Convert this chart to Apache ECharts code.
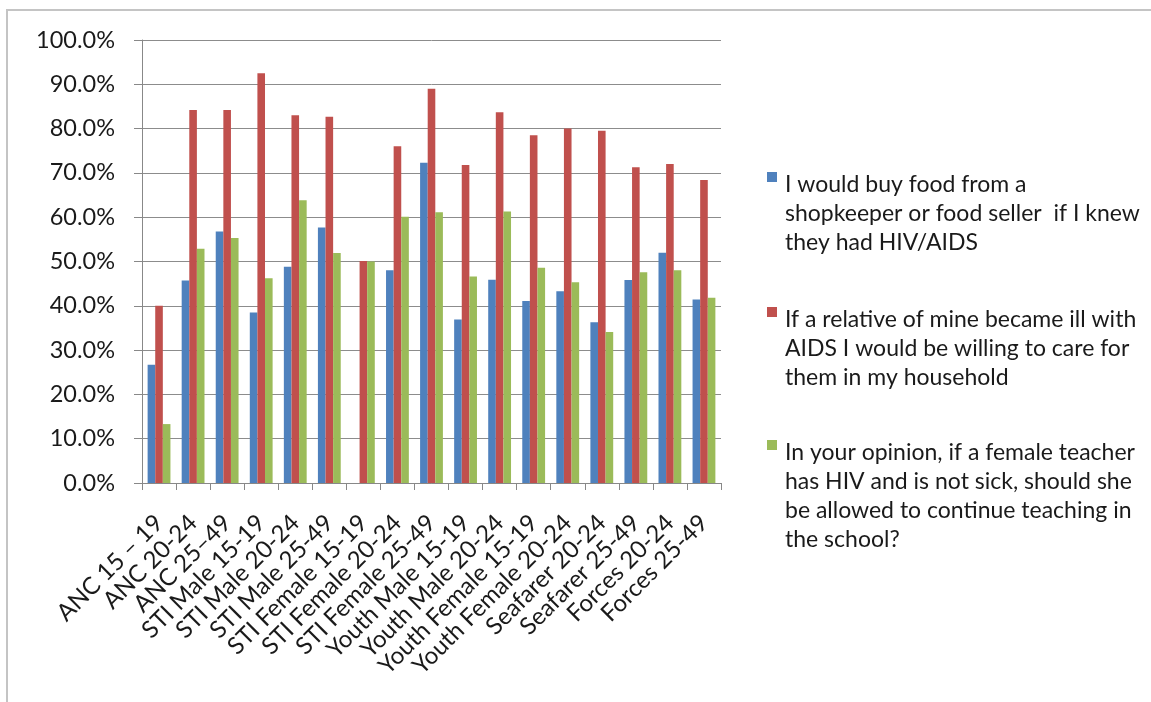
<!DOCTYPE html>
<html>
<head>
<meta charset="utf-8">
<script src="https://cdn.jsdelivr.net/npm/echarts@6/dist/echarts.min.js"></script>
<style>
html,body{margin:0;padding:0;background:#fff;}
#chart{width:1151px;height:702px;}
</style>
</head>
<body>
<div id="chart"></div>
<script>
const categories = ['ANC 15 – 19','ANC 20-24','ANC 25–49','STI Male 15-19','STI Male 20-24','STI Male 25-49','STI Female 15-19','STI Female 20-24','STI Female 25-49','Youth Male 15-19','Youth Male 20-24','Youth Female 15-19','Youth Female 20-24','Seafarer 20-24','Seafarer 25-49','Forces 20-24','Forces 25-49'];
const seriesNames = [
  'I would buy food from a shopkeeper or food seller  if I knew they had HIV/AIDS',
  'If a relative of mine became ill with AIDS I would be willing to care for them in my household',
  'In your opinion, if a female teacher has HIV and is not sick, should she be allowed to continue teaching in the school?'
];
const legendLines = [
  ['I would buy food from a','shopkeeper or food seller  if I knew','they had HIV/AIDS'],
  ['If a relative of mine became ill with','AIDS I would be willing to care for','them in my household'],
  ['In your opinion, if a female teacher','has HIV and is not sick, should she','be allowed to continue teaching in','the school?']
];
const buyFood = [26.7,45.7,56.8,38.5,48.8,57.7,0,48.0,72.3,36.9,45.9,41.1,43.3,36.3,45.8,52.0,41.4];
const careRelative = [40.0,84.2,84.2,92.5,83.0,82.7,50.1,76.0,89.0,71.8,83.7,78.5,80.0,79.5,71.3,72.0,68.4];
const teacherContinue = [13.3,52.9,55.3,46.2,63.8,51.9,50.0,60.1,61.1,46.6,61.3,48.6,45.3,34.1,47.6,48.0,41.8];
const yTicks = {min:0, max:100, interval:10};

const colors = ['#4F81BD','#C0504D','#9BBB59'];
const FONT = 'Lato';
const LH = 29;

function legendFor(i, top){
  const n = legendLines[i].length;
  const h = n*LH;
  return {
    show:true, orient:'vertical', left:767, top:top, padding:0,
    data:[seriesNames[i]],
    itemWidth:13, itemHeight:h,
    icon:'path://M0,2H10V12H0Z M0,0L0.01,0 M13,'+h+'L12.99,'+h,
    selectedMode:false,
    formatter: function(){ return legendLines[i].join('\n'); },
    textStyle:{fontFamily:FONT, fontSize:23, color:'#1a1a1a', lineHeight:LH}
  };
}

const chart = echarts.init(document.getElementById('chart'));
chart.setOption({
  animation:false,
  backgroundColor:'#ffffff',
  color:colors,
  graphic:[{type:'rect', shape:{x:7,y:10,width:1400,height:900}, style:{fill:'none', stroke:'#c4c4c4', lineWidth:2}, silent:true, z:-10}],
  legend:[legendFor(0,170), legendFor(1,305), legendFor(2,438)],
  grid:{left:142, right:430, top:40, bottom:219, containLabel:false},
  xAxis:{
    type:'category', data:categories,
    axisLine:{lineStyle:{color:'#888888', width:1}},
    axisTick:{show:true, length:7, alignWithLabel:false, lineStyle:{color:'#888888'}},
    axisLabel:{rotate:45, interval:0, margin:36, padding:[28,0,0,0], fontFamily:FONT, fontSize:24, color:'#1a1a1a'}
  },
  yAxis:{
    type:'value', min:yTicks.min, max:yTicks.max, interval:yTicks.interval,
    axisLine:{show:true, lineStyle:{color:'#888888'}},
    axisTick:{show:true, length:8, lineStyle:{color:'#888888'}},
    splitLine:{lineStyle:{color:'#8c8c8c', width:1}},
    axisLabel:{margin:27, fontFamily:FONT, fontSize:23.5, color:'#1a1a1a', formatter:function(v){return v.toFixed(1)+'%';}}
  },
  series:[
    {name:seriesNames[0], type:'bar', data:buyFood, barGap:'0%', barCategoryGap:'33%'},
    {name:seriesNames[1], type:'bar', data:careRelative, barGap:'0%', barCategoryGap:'33%'},
    {name:seriesNames[2], type:'bar', data:teacherContinue, barGap:'0%', barCategoryGap:'33%'}
  ]
});
</script>
</body>
</html>
